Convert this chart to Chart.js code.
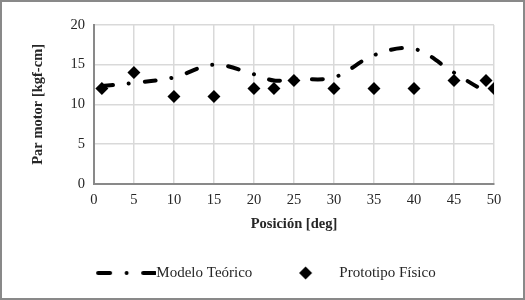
<!DOCTYPE html>
<html>
<head>
<meta charset="utf-8">
<script src="https://cdn.jsdelivr.net/npm/chart.js@4/dist/chart.umd.min.js"></script>
<style>
  html, body { margin: 0; padding: 0; background: #fff; }
  #wrap {
    width: 525px; height: 300px; box-sizing: border-box;
    border: 2px solid #898989; background: #fff;
  }
  #chartCanvas { display: block; }
</style>
</head>
<body>
<div id="wrap"><canvas id="chartCanvas" width="521" height="296"></canvas></div>
<script>
// datos
const positions = [1, 5, 10, 15, 20, 22.5, 25, 30, 35, 40, 45, 49, 50];
const modelValues = [12.3, 12.7, 13.4, 15.0, 13.8, 13.0, 13.2, 13.4, 16.2, 17.0, 14.0, 11.7, 12.0];
const prototypeValues = [12, 14, 11, 11, 12, 12, 13, 12, 12, 12, 13, 13, 12];
const seriesNames = ["Modelo Teórico", "Prototipo Físico"];
const xTitle = "Posición [deg]";
const yTitle = "Par motor [kgf-cm]";

const serif = "'Liberation Serif', 'Times New Roman', serif";
const textColor = "#262626";

// iconos de la leyenda
const makeLineIcon = () => {
  const c = document.createElement("canvas");
  c.width = 84; c.height = 8;
  const g = c.getContext("2d");
  g.strokeStyle = "#000";
  g.lineWidth = 4;
  g.lineCap = "round";
  g.setLineDash([12, 16.5, 0.01, 16.5]);
  g.beginPath();
  g.moveTo(26, 4);
  g.lineTo(83, 4);
  g.stroke();
  return c;
};

const makeDiamondIcon = () => {
  const c = document.createElement("canvas");
  c.width = 40; c.height = 16;
  const g = c.getContext("2d");
  g.fillStyle = "#000";
  g.beginPath();
  g.moveTo(28.5, 1.5);
  g.lineTo(35, 8);
  g.lineTo(28.5, 14.5);
  g.lineTo(22, 8);
  g.closePath();
  g.fill();
  return c;
};

const legendIcons = [makeLineIcon(), makeDiamondIcon()];

const ctx = document.getElementById("chartCanvas").getContext("2d");

new Chart(ctx, {
  type: "scatter",
  data: {
    datasets: [
      {
        label: seriesNames[0],
        type: "line",
        data: positions.map((x, i) => ({ x: x, y: modelValues[i] })),
        borderColor: "#000",
        borderWidth: 4,
        borderDash: [11, 16, 0.01, 16],
        borderCapStyle: "round",
        tension: 0.35,
        pointRadius: 0,
        fill: false,
        showLine: true,
      },
      {
        label: seriesNames[1],
        data: positions.map((x, i) => ({ x: x, y: prototypeValues[i] })),
        pointStyle: "rectRot",
        pointRadius: 6.5,
        backgroundColor: "#000",
        borderColor: "#000",
        borderWidth: 0,
        showLine: false,
      },
    ],
  },
  options: {
    responsive: false,
    animation: false,
    layout: { padding: { left: 19, right: 29, top: 23, bottom: 7.5 } },
    plugins: {
      tooltip: { enabled: false },
      legend: {
        position: "bottom",
        labels: {
          usePointStyle: true,
          pointStyleWidth: 69.5,
          padding: 10,
          color: textColor,
          font: { family: serif, size: 15 },
          generateLabels: (chart) => {
            const items = Chart.defaults.plugins.legend.labels.generateLabels(chart);
            items.forEach((it, i) => {
              it.pointStyle = legendIcons[i];
              it.lineDash = [];
            });
            return items;
          },
        },
      },
    },
    scales: {
      x: {
        type: "linear",
        min: 0,
        max: 50,
        ticks: {
          stepSize: 5,
          color: textColor,
          padding: 8,
          font: { family: serif, size: 14.5 },
        },
        grid: { color: "#d9d9d9", lineWidth: 1.5, drawTicks: false },
        border: { color: "#898989", width: 2 },
        title: {
          display: true,
          text: xTitle,
          color: textColor,
          font: { family: serif, size: 14.5, weight: "bold" },
          padding: { top: -2, bottom: 23 },
        },
      },
      y: {
        min: 0,
        max: 20,
        ticks: {
          stepSize: 5,
          color: textColor,
          padding: 9,
          font: { family: serif, size: 14.5 },
        },
        grid: { color: "#d9d9d9", lineWidth: 1.5, drawTicks: false },
        border: { color: "#898989", width: 2 },
        title: {
          display: true,
          text: yTitle,
          color: textColor,
          font: { family: serif, size: 14.5, weight: "bold" },
          padding: { top: 9, bottom: 14 },
        },
      },
    },
  },
});
</script>
</body>
</html>
